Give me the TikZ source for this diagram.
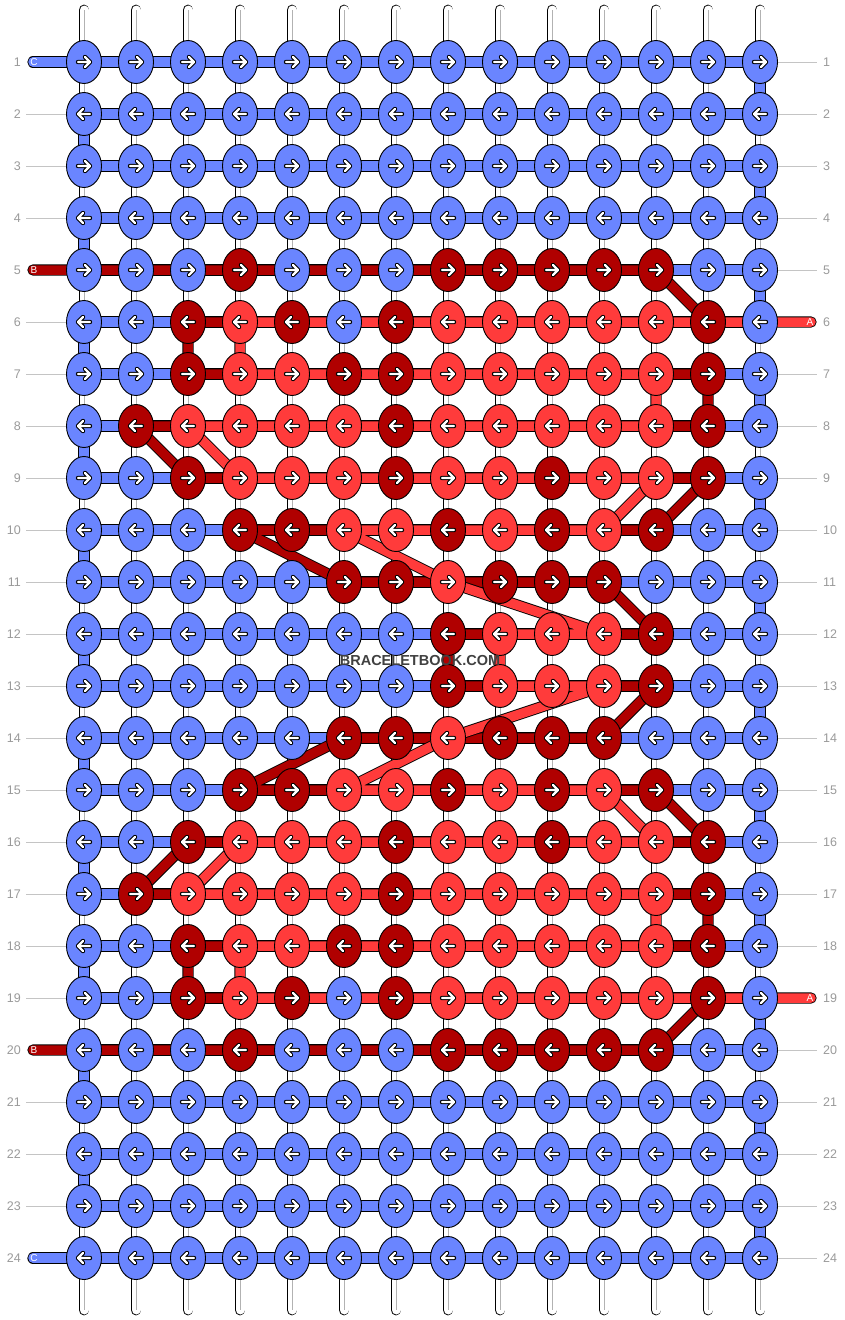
\documentclass[tikz,border=0pt]{standalone}
\usepackage{fontspec}
\setmainfont{Liberation Sans}
\usetikzlibrary{shapes.geometric,backgrounds}
\definecolor{threadC}{HTML}{6A85FF}
\definecolor{threadB}{HTML}{B00000}
\definecolor{threadA}{HTML}{FF3B3B}
\definecolor{numgray}{HTML}{9A9A9A}
\definecolor{guidegray}{HTML}{C4C4C4}

\begin{document}
\begin{tikzpicture}[x=1pt, y=-1pt,
  every node/.style={font=\fontsize{12.5}{15}\selectfont},
  knot/.style={ellipse, draw, line width=0.9pt, minimum width=35pt, minimum height=43pt, inner sep=0pt},
  strand/.style={draw=black, double=white, double distance=9pt, line width=0.9pt, line cap=round},
  strandmid/.style={draw=black!30, line width=0.7pt},
  thread/.style={draw=black, double=#1, double distance=9.5pt, line width=0.9pt, line cap=round, line join=round},
  arrowmark/.style={draw=white, line width=2.2pt, line cap=round, line join=round,
    preaction={draw=black, line width=4.4pt, line cap=round, line join=round}},
  rownum/.style={text=numgray, inner sep=0pt},
  guide/.style={draw=guidegray, line width=0.8pt},
  stubtag/.style={text=white, font=\fontsize{10}{12}\selectfont, inner sep=0pt},
  watermark/.style={text=black!75, font=\bfseries\fontsize{14.5}{16}\selectfont, inner sep=1pt}
]
\useasboundingbox (0,0) rectangle (844,1320);

% Knots, row by row (C blue, B dark red, A light red)
\foreach \r/\knots in {
  1/{C,C,C,C,C,C,C,C,C,C,C,C,C,C},
  2/{C,C,C,C,C,C,C,C,C,C,C,C,C,C},
  3/{C,C,C,C,C,C,C,C,C,C,C,C,C,C},
  4/{C,C,C,C,C,C,C,C,C,C,C,C,C,C},
  5/{C,C,C,B,C,C,C,B,B,B,B,B,C,C},
  6/{C,C,B,A,B,C,B,A,A,A,A,A,B,C},
  7/{C,C,B,A,A,B,B,A,A,A,A,A,B,C},
  8/{C,B,A,A,A,A,B,A,A,A,A,A,B,C},
  9/{C,C,B,A,A,A,B,A,A,B,A,A,B,C},
  10/{C,C,C,B,B,A,A,B,A,B,A,B,C,C},
  11/{C,C,C,C,C,B,B,A,B,B,B,C,C,C},
  12/{C,C,C,C,C,C,C,B,A,A,A,B,C,C},
  13/{C,C,C,C,C,C,C,B,A,A,A,B,C,C},
  14/{C,C,C,C,C,B,B,A,B,B,B,C,C,C},
  15/{C,C,C,B,B,A,A,B,A,B,A,B,C,C},
  16/{C,C,B,A,A,A,B,A,A,B,A,A,B,C},
  17/{C,B,A,A,A,A,B,A,A,A,A,A,B,C},
  18/{C,C,B,A,A,B,B,A,A,A,A,A,B,C},
  19/{C,C,B,A,B,C,B,A,A,A,A,A,B,C},
  20/{C,C,C,B,C,C,C,B,B,B,B,B,C,C},
  21/{C,C,C,C,C,C,C,C,C,C,C,C,C,C},
  22/{C,C,C,C,C,C,C,C,C,C,C,C,C,C},
  23/{C,C,C,C,C,C,C,C,C,C,C,C,C,C},
  24/{C,C,C,C,C,C,C,C,C,C,C,C,C,C}} {
  \foreach \k [count=\c] in \knots
    \node[knot, fill=thread\k] (k-\r-\c) at ({84+52*(\c-1)}, {62+52*(\r-1)}) {};
}

% Knot arrows: odd rows to the right, even rows to the left
\foreach \r in {1,...,24} {
  \pgfmathsetmacro\dir{isodd(\r) ? 1 : -1}
  \foreach \c in {1,...,14}
    \draw[arrowmark] ([xshift={-6*(\dir)}]k-\r-\c.center) -- ++({12*(\dir)},0)
      ++({-5*(\dir)},-5) -- ++({5*(\dir)},5) -- ++({-5*(\dir)},5);
}

% Row numbers
\foreach \r in {1,...,24} {
  \node[rownum, anchor=east] (ln-\r) at (21, {62+52*(\r-1)}) {\r};
  \node[rownum, anchor=west] (rn-\r) at (823, {62+52*(\r-1)}) {\r};
}

% Loose thread ends
\coordinate (stubC1) at (33,62);
\coordinate (stubB5) at (33,270);
\coordinate (stubA6) at (811,322);
\coordinate (stubA19) at (811,998);
\coordinate (stubB20) at (33,1050);
\coordinate (stubC24) at (33,1258);
\node[stubtag] (tagC1) at ([xshift=1pt]stubC1) {C};
\node[stubtag] (tagB5) at ([xshift=1pt]stubB5) {B};
\node[stubtag] (tagA6) at ([xshift=-1pt]stubA6) {A};
\node[stubtag] (tagA19) at ([xshift=-1pt]stubA19) {A};
\node[stubtag] (tagB20) at ([xshift=1pt]stubB20) {B};
\node[stubtag] (tagC24) at ([xshift=1pt]stubC24) {C};

\node[watermark] (wm) at (420,660) {BRACELETBOOK.COM};

\begin{scope}[on background layer]
  \fill[white] (0,0) rectangle (844,1320);
  % Vertical strings
  \foreach \c in {1,...,14} {
    \coordinate (top-\c) at ({84+52*(\c-1)}, 10);
    \coordinate (bot-\c) at ({84+52*(\c-1)}, 1310);
    \draw[strand] (top-\c) -- (bot-\c);
    \draw[strandmid] (top-\c) -- (bot-\c);
  }
  % Guide lines
  \foreach \r in {2,3,4,6,7,...,19,21,22,23}
    \draw[guide] ([xshift=5pt]ln-\r.east) -- (k-\r-1.west);
  \foreach \r in {1,...,5,7,8,...,18,20,21,...,24}
    \draw[guide] (k-\r-14.east) -- ([xshift=-6pt]rn-\r.west);
  % Thread C: back and forth through every row
  \draw[thread=threadC] (stubC1)
    \foreach \r [evaluate=\r as \a using int(isodd(\r)?1:14),
                 evaluate=\r as \b using int(isodd(\r)?14:1)] in {1,...,24}
      { -- (k-\r-\a.center) -- (k-\r-\b.center) } -- (stubC24);
  % Thread B
  \draw[thread=threadB] (stubB5)
    \foreach \r/\c in {5/1,5/12,6/13,6/3,7/3,7/13,8/13,8/2,9/3,9/13,10/12,10/4,
                       11/6,11/11,12/12,12/8,13/8,13/12,14/11,14/6,15/4,15/12,
                       16/13,16/3,17/2,17/13,18/13,18/3,19/3,19/13,20/12,20/1}
      { -- (k-\r-\c.center) } -- (stubB20);
  % Thread A
  \draw[thread=threadA] (stubA6)
    \foreach \r/\c in {6/14,6/4,7/4,7/12,8/12,8/3,9/4,9/12,10/11,10/6,11/8,12/11,
                       12/9,13/9,13/11,14/8,15/6,15/11,16/12,16/4,17/3,17/12,
                       18/12,18/4,19/4,19/14}
      { -- (k-\r-\c.center) } -- (stubA19);
\end{scope}
\end{tikzpicture}
\end{document}
